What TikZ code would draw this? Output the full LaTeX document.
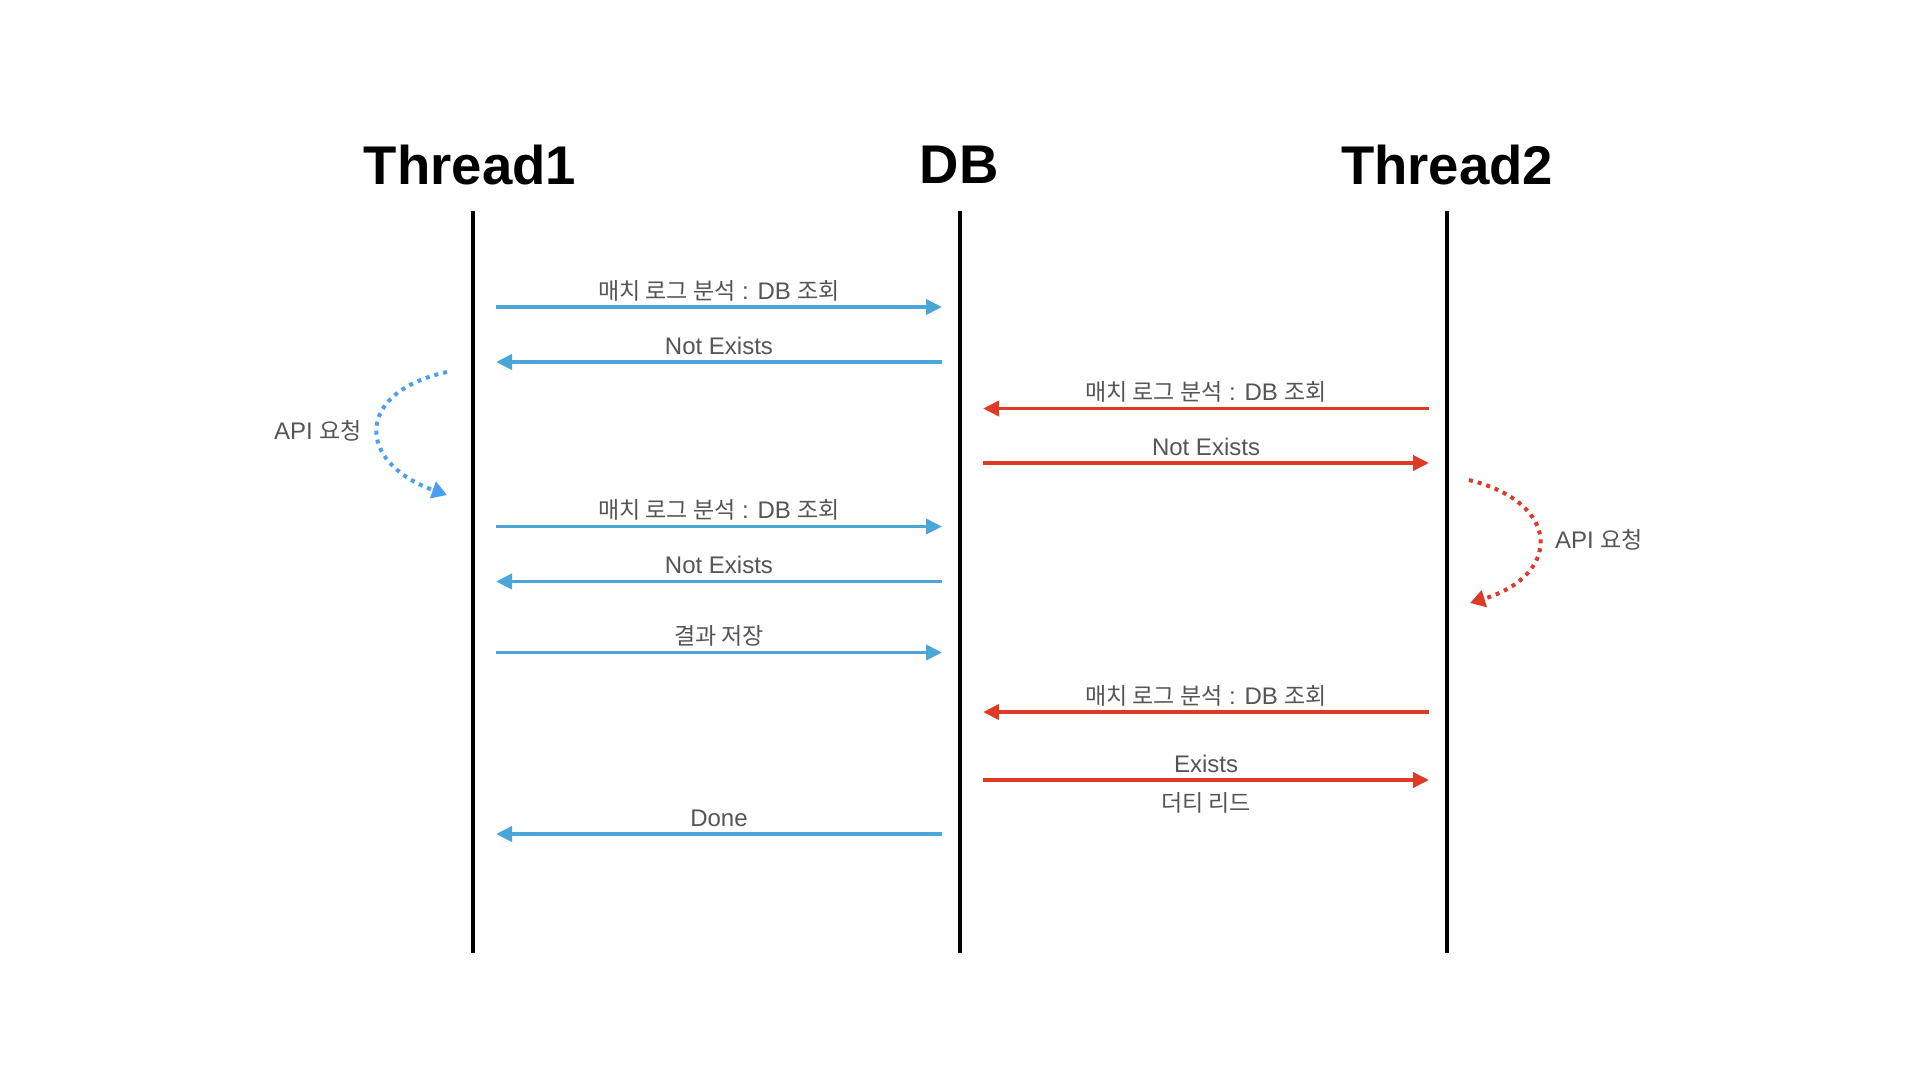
\documentclass[tikz,border=0pt]{standalone}
\usepackage{fontspec}
\setmainfont{Liberation Sans}
\newfontfamily\kr{Noto Sans CJK KR}
\usetikzlibrary{arrows.meta}
\definecolor{mblue}{HTML}{4AA6D6}
\definecolor{mred}{HTML}{DE3B27}
\definecolor{dblue}{HTML}{4A9EF4}
\definecolor{dred}{HTML}{DC3A2A}
\definecolor{tgray}{HTML}{555555}
\tikzset{
  lifeline/.style={line width=3.2pt, draw=black},
  hdr/.style={font=\fontsize{54.5}{60}\selectfont\bfseries, inner sep=0pt},
  bluemsg/.style={line width=3.7pt, draw=mblue, -{Triangle[length=16pt,width=15pt]}},
  redmsg/.style={line width=3.7pt, draw=mred, -{Triangle[length=16pt,width=15pt]}},
  lbl/.style={text=tgray, font=\fontsize{24}{28}\selectfont, inner sep=0pt, anchor=base},
  above lbl/.style={lbl, yshift=8pt},
  below lbl/.style={lbl, yshift=-31pt},
  dotblue/.style={line width=4pt, draw=dblue, dash pattern=on 4pt off 5pt, -{Triangle[length=15pt,width=17pt]}},
  dotred/.style={line width=4pt, draw=dred, dash pattern=on 4pt off 5pt, -{Triangle[length=15pt,width=17pt]}},
}
\newcommand{\krs}[1]{{\kr\fontsize{23}{27}\selectfont #1}}
\begin{document}
\begin{tikzpicture}[x=1pt,y=-1pt]
\useasboundingbox (0,0) rectangle (1920,1080);
% headers
\node[hdr] (h1) at (470,165) {Thread1};
\node[hdr] (h2) at (959,165) {DB};
\node[hdr] (h3) at (1447,165) {Thread2};
% lifelines
\coordinate (t1top) at (473,211); \coordinate (t1bot) at (473,953);
\coordinate (dbtop) at (960,211); \coordinate (dbbot) at (960,953);
\coordinate (t2top) at (1447,211); \coordinate (t2bot) at (1447,953);
\draw[lifeline] (t1top) -- (t1bot);
\draw[lifeline] (dbtop) -- (dbbot);
\draw[lifeline] (t2top) -- (t2bot);
% blue messages
\coordinate (b1l) at (496,307);   \coordinate (b1r) at (942,307);
\coordinate (b2l) at (496,362);   \coordinate (b2r) at (942,362);
\coordinate (b3l) at (496,526.5); \coordinate (b3r) at (942,526.5);
\coordinate (b4l) at (496,581.5); \coordinate (b4r) at (942,581.5);
\coordinate (b5l) at (496,652.5); \coordinate (b5r) at (942,652.5);
\coordinate (b6l) at (496,834);   \coordinate (b6r) at (942,834);
\draw[bluemsg] (b1l) -- node[above lbl] (l1) {\krs{매치 로그 분석} : DB \krs{조회}} (b1r);
\draw[bluemsg] (b2r) -- node[above lbl] (l2) {Not Exists} (b2l);
\draw[bluemsg] (b3l) -- node[above lbl] (l3) {\krs{매치 로그 분석} : DB \krs{조회}} (b3r);
\draw[bluemsg] (b4r) -- node[above lbl] (l4) {Not Exists} (b4l);
\draw[bluemsg] (b5l) -- node[above lbl] (l5) {\krs{결과 저장}} (b5r);
\draw[bluemsg] (b6r) -- node[above lbl] (l6) {Done} (b6l);
% red messages
\coordinate (r1l) at (983,408.5); \coordinate (r1r) at (1429,408.5);
\coordinate (r2l) at (983,463);   \coordinate (r2r) at (1429,463);
\coordinate (r3l) at (983,712);   \coordinate (r3r) at (1429,712);
\coordinate (r4l) at (983,780);   \coordinate (r4r) at (1429,780);
\draw[redmsg] (r1r) -- node[above lbl] (m1) {\krs{매치 로그 분석} : DB \krs{조회}} (r1l);
\draw[redmsg] (r2l) -- node[above lbl] (m2) {Not Exists} (r2r);
\draw[redmsg] (r3r) -- node[above lbl] (m3) {\krs{매치 로그 분석} : DB \krs{조회}} (r3l);
\draw[redmsg] (r4l) -- node[above lbl] (m4) {Exists} node[below lbl] (m5) {\krs{더티 리드}} (r4r);
% API request loops
\coordinate (a1s) at (447,372); \coordinate (a1e) at (447,495);
\draw[dotblue] (a1s) .. controls (355,392) and (355,462) .. (a1e);
\node[text=tgray, font=\fontsize{24}{28}\selectfont, inner sep=0pt] (api1) at (318,431) {API \krs{요청}};
\coordinate (a2s) at (1469,480); \coordinate (a2e) at (1470,603);
\draw[dotred] (a2s) .. controls (1562,503) and (1562,575) .. (a2e);
\node[text=tgray, font=\fontsize{24}{28}\selectfont, inner sep=0pt] (api2) at (1599,540) {API \krs{요청}};
\end{tikzpicture}
\end{document}
